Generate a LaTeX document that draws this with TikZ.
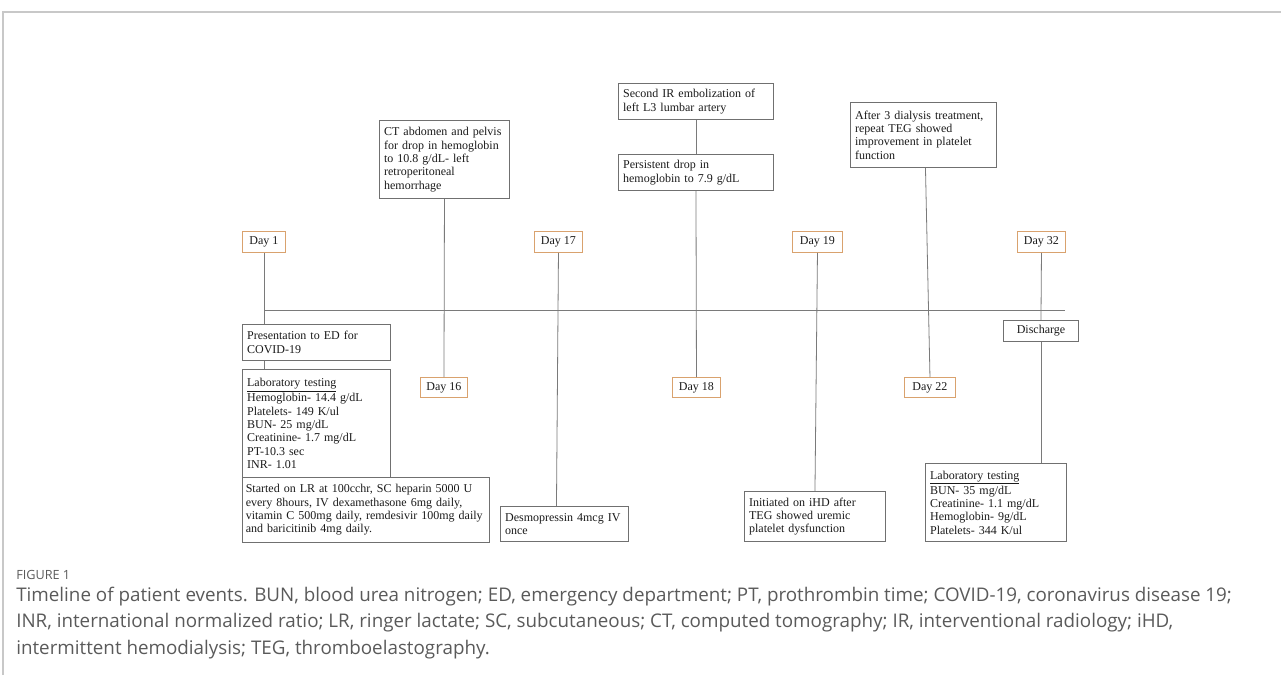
\documentclass[tikz,border=0pt]{standalone}
\usepackage{fontspec}
\setmainfont{Liberation Serif}
\newfontfamily\capfont{Open Sans}
\usetikzlibrary{calc}
\definecolor{dayorange}{HTML}{D9A26E}
\definecolor{boxgray}{HTML}{707070}
\definecolor{linegray}{HTML}{7A7A7A}
\definecolor{framegray}{HTML}{C8C8C8}
\definecolor{captext}{HTML}{5A5A5A}
\definecolor{txt}{HTML}{1A1A1A}
\tikzset{
  evt/.style={draw=boxgray, line width=0.7pt, anchor=north west, align=left,
    inner xsep=3.5pt, inner ysep=1pt, text=txt,
    font=\fontsize{9}{10}\selectfont},
  daybox/.style={draw=dayorange, line width=0.7pt, anchor=north west, align=center,
    inner sep=1pt, text=txt, font=\fontsize{9}{10}\selectfont},
  conn/.style={draw=linegray, line width=0.6pt},
  capline/.style={anchor=west, inner sep=0pt, text=captext,
    font=\capfont\fontsize{14.1}{16}\selectfont}
}
\begin{document}
\begin{tikzpicture}[x=0.75pt,y=-0.75pt]
\useasboundingbox (0,0) rectangle (1281,675);
% frame
\draw[framegray, line width=0.8pt] (3,675) -- (3,12) -- (1281,12);

% day boxes
\node[daybox, minimum width=32.25pt, minimum height=15.75pt] (d1) at (242,231) {Day 1};
\node[daybox, minimum width=35.25pt, minimum height=15pt] (d16) at (420,377) {Day 16};
\node[daybox, minimum width=36pt, minimum height=15.75pt] (d17) at (534,231) {Day 17};
\node[daybox, minimum width=36pt, minimum height=15pt] (d18) at (672,377) {Day 18};
\node[daybox, minimum width=37.5pt, minimum height=15.75pt] (d19) at (792,231) {Day 19};
\node[daybox, minimum width=38.25pt, minimum height=15pt] (d22) at (904,377) {Day 22};
\node[daybox, minimum width=36pt, minimum height=15.75pt] (d32) at (1017,231) {Day 32};

% event boxes
\node[evt, text width=104pt, minimum height=27pt] (pres) at (242,324)
  {Presentation to ED for\\COVID-19};
\node[evt, text width=104pt, minimum height=81pt] (lab1) at (242,369)
  {\underline{Laboratory testing}\\Hemoglobin- 14.4 g/dL\\Platelets- 149 K/ul\\BUN- 25 mg/dL\\Creatinine- 1.7 mg/dL\\PT-10.3 sec\\INR- 1.01};
\node[evt, inner xsep=2.5pt, text width=180pt, minimum height=48.75pt] (start) at (242,477)
  {Started on LR at 100cchr, SC heparin 5000 U\\every 8hours, IV dexamethasone 6mg daily,\\vitamin C 500mg daily, remdesivir 100mg daily\\and baricitinib 4mg daily.};
\node[evt, text width=90.5pt, minimum height=58.5pt] (ct) at (379,120)
  {CT abdomen and pelvis\\for drop in hemoglobin\\to 10.8 g/dL- left\\retroperitoneal\\hemorrhage};
\node[evt, text width=89pt, minimum height=26.25pt] (desmo) at (500,506)
  {Desmopressin 4mcg IV\\once};
\node[evt, text width=109.25pt, minimum height=27pt] (ir2) at (618,83)
  {Second IR embolization of\\left L3 lumbar artery};
\node[evt, text width=109.25pt, minimum height=27pt] (drop) at (618,154)
  {Persistent drop in\\hemoglobin to 7.9 g/dL};
\node[evt, text width=98.75pt, minimum height=37.5pt] (ihd) at (744,491)
  {Initiated on iHD after\\TEG showed uremic\\platelet dysfunction};
\node[evt, text width=102.5pt, minimum height=48.75pt] (teg) at (850,102)
  {After 3 dialysis treatment,\\repeat TEG showed\\improvement in platelet\\function};
\node[evt, align=center, text width=49.25pt, minimum height=15.75pt] (dis) at (1003,320)
  {Discharge};
\node[evt, text width=98.75pt, minimum height=58.5pt] (lab2) at (925,463)
  {\underline{Laboratory testing}\\BUN- 35 mg/dL\\Creatinine- 1.1 mg/dL\\Hemoglobin- 9g/dL\\Platelets- 344 K/ul};

% timeline
\coordinate (tlL) at (264,310);
\coordinate (tlR) at (1065,310);
\draw[conn] (tlL) -- (tlR);

% connectors
\draw[conn] (d1.south) -- (d1.south |- pres.north);
\draw[conn] (d1.south |- pres.south) -- (d1.south |- lab1.north);
\draw[conn] (ct.south) -- (d16.north);
\draw[conn] (d17.south) -- ([xshift=-6pt]desmo.north);
\draw[conn] (ir2.south) -- (drop.north);
\draw[conn] (drop.south) -- (d18.north);
\draw[conn] (d19.south) -- (ihd.north);
\draw[conn] ([xshift=1.5pt]teg.south) -- (d22.north);
\draw[conn] (d32.south) -- (dis.north);
\draw[conn] (dis.south) -- (dis.south |- lab2.north);

% caption
\node[anchor=west, inner sep=0pt, text=captext, font=\capfont\fontsize{9.5}{11}\selectfont] (fig) at (16,575) {FIGURE 1};
\node[capline] (cap1) at (16,597) {Timeline of patient events. BUN, blood urea nitrogen; ED, emergency department; PT, prothrombin time; COVID-19, coronavirus disease 19;};
\node[capline] (cap2) at (16,623) {INR, international normalized ratio; LR, ringer lactate; SC, subcutaneous; CT, computed tomography; IR, interventional radiology; iHD,};
\node[capline] (cap3) at (16,650) {intermittent hemodialysis; TEG, thromboelastography.};
\end{tikzpicture}
\end{document}
